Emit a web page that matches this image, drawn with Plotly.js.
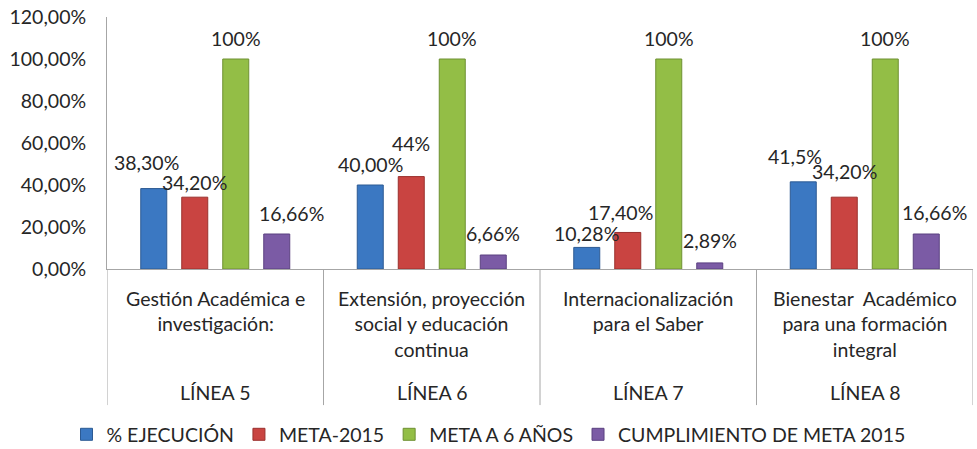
<!DOCTYPE html>
<html>
<head>
<meta charset="utf-8">
<script src="https://cdn.plot.ly/plotly-3.0.1.min.js"></script>
<style>
html,body{margin:0;padding:0;background:#fff;}
#chart{width:977px;height:449px;}
</style>
</head>
<body>
<div id="chart"></div>
<script>
// ---- data ----
const lineas = ["LÍNEA 5", "LÍNEA 6", "LÍNEA 7", "LÍNEA 8"];
const ejes = [
  "Gestión Académica e<br>investigación:",
  "Extensión, proyección<br>social y educación<br>continua",
  "Internacionalización<br>para el Saber",
  "Bienestar  Académico<br>para una formación<br>integral"
];
const seriesNames = ["% EJECUCIÓN", "META-2015", "META A 6 AÑOS", "CUMPLIMIENTO DE META 2015"];
const ejecucion = [38.30, 40.00, 10.28, 41.5];
const meta2015 = [34.20, 44, 17.40, 34.20];
const meta6 = [100, 100, 100, 100];
const cumplimiento = [16.66, 6.66, 2.89, 16.66];
const labEjecucion = ["38,30%", "40,00%", "10,28%", "41,5%"];
const labMeta2015 = ["34,20%", "44%", "17,40%", "34,20%"];
const labMeta6 = ["100%", "100%", "100%", "100%"];
const labCumplimiento = ["16,66%", "6,66%", "2,89%", "16,66%"];
const yTicks = [0, 20, 40, 60, 80, 100, 120];
const yTickText = ["0,00%", "20,00%", "40,00%", "60,00%", "80,00%", "100,00%", "120,00%"];

// ---- styles ----
const colors = ["#3B78C2", "#C94441", "#93BE46", "#7B5BA5"];
const lineColors = ["#2C5A93", "#9A302D", "#6E9032", "#5B4180"];
// label offsets relative to bar top (px): [dx, dy]
const labelShift = [
  [[-7, 26], [0, 21], [0, 14], [-8, 25]],
  [[0, 15], [0, 33], [-7, 20], [0, 26]],
  [[0, 21], [0, 21], [0, 21], [0, 21]],
  [[15, 21], [0, 22], [0, 22], [8, 22]]
];

const FONT = "Lato, 'Open Sans', sans-serif";
const FS = 19.5;
const TXT = "#262626";
const bargap = 0.2425;
const nSeries = 4;
const xIdx = lineas.map((_, i) => i);
const vals = [ejecucion, meta2015, meta6, cumplimiento];
const labs = [labEjecucion, labMeta2015, labMeta6, labCumplimiento];

const traces = vals.map((v, k) => ({
  type: "bar",
  x: xIdx,
  y: v,
  name: seriesNames[k],
  marker: {color: colors[k], line: {color: lineColors[k], width: 1}},
  hoverinfo: "name+y"
}));

const annotations = [];
const slot = (1 - bargap) / nSeries;
vals.forEach((v, k) => {
  v.forEach((val, i) => {
    annotations.push({
      x: i + (k - (nSeries - 1) / 2) * slot,
      y: val,
      xref: "x", yref: "y",
      text: labs[k][i],
      showarrow: false,
      xanchor: "center", yanchor: "middle",
      xshift: labelShift[k][i][0],
      yshift: labelShift[k][i][1],
      font: {family: FONT, size: FS, color: TXT}
    });
  });
});
// category labels
ejes.forEach((t, i) => {
  annotations.push({
    x: i, y: 0, xref: "x", yref: "paper",
    text: t, showarrow: false,
    xanchor: "center", yanchor: "top", yshift: -16,
    align: "center",
    font: {family: FONT, size: FS, color: TXT}
  });
});
lineas.forEach((t, i) => {
  annotations.push({
    x: i, y: 0, xref: "x", yref: "paper",
    text: t, showarrow: false,
    xanchor: "center", yanchor: "middle", yshift: -123,
    font: {family: FONT, size: FS, color: TXT}
  });
});

// divider lines in category area
const shapes = [];
for (let i = 0; i <= lineas.length; i++) {
  shapes.push({
    type: "line", xref: "x", yref: "paper",
    x0: i - 0.5, x1: i - 0.5, y0: 0, y1: -0.54,
    line: {color: "#A6A6A6", width: 1}
  });
}

const layout = {
  width: 977, height: 449,
  margin: {l: 107, r: 4, t: 17, b: 180},
  paper_bgcolor: "#ffffff",
  plot_bgcolor: "#ffffff",
  barmode: "group",
  bargap: bargap,
  bargroupgap: 0.366,
  font: {family: FONT, size: FS, color: TXT},
  showlegend: true,
  legend: {
    orientation: "h",
    xref: "container", yref: "container",
    x: 0.5, xanchor: "center",
    y: 0.032, yanchor: "middle",
    font: {family: FONT, size: FS, color: TXT},
    itemclick: false, itemdoubleclick: false
  },
  xaxis: {
    range: [-0.5, 3.5],
    showticklabels: false,
    showgrid: false,
    zeroline: false,
    showline: true,
    linecolor: "#A6A6A6",
    linewidth: 1,
    ticks: "",
    fixedrange: true
  },
  yaxis: {
    range: [0, 120],
    tickmode: "array",
    tickvals: yTicks,
    ticktext: yTickText,
    showgrid: false,
    zeroline: false,
    showline: true,
    linecolor: "#A6A6A6",
    linewidth: 1,
    ticks: "",
    ticklabelstandoff: 16,
    tickfont: {family: FONT, size: FS, color: TXT},
    fixedrange: true
  },
  annotations: annotations,
  shapes: shapes
};

Plotly.newPlot("chart", traces, layout, {displayModeBar: false});
</script>
</body>
</html>
